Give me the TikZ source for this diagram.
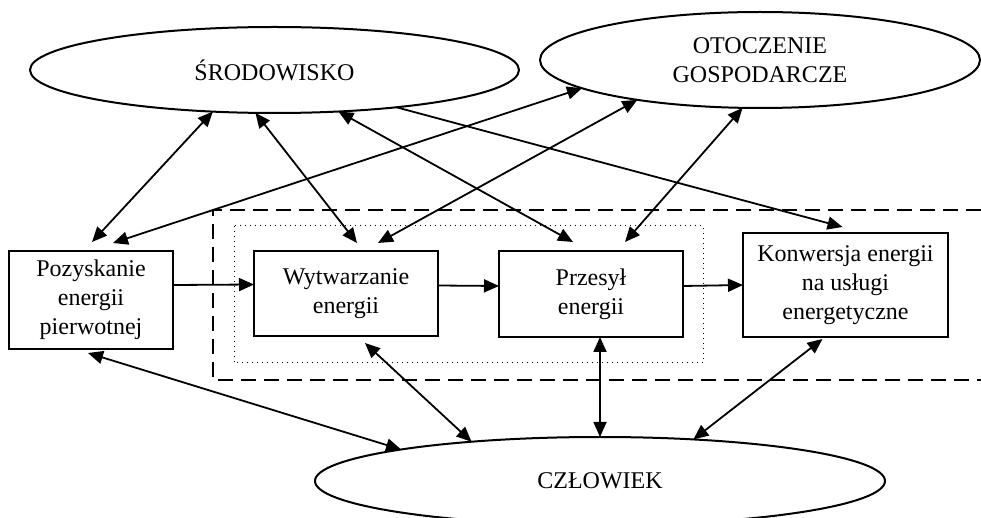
\documentclass[tikz,border=0pt]{standalone}
\usepackage{fontspec}
\setmainfont{Liberation Serif}
\usetikzlibrary{shapes.geometric,arrows.meta}
\begin{document}
\begin{tikzpicture}[x=0.5pt,y=-0.5pt,font=\fontsize{12}{14.5}\selectfont,
    blok/.style={draw,line width=1.25pt,inner sep=0pt,outer sep=0pt,align=center},
    owal/.style={draw,ellipse,line width=1pt,inner sep=0pt,outer sep=0pt,align=center},
    strz/.style={line width=0.9pt,-{Triangle[length=7.5pt,width=6.5pt]}},
    dwustrz/.style={line width=0.9pt,{Triangle[length=7.5pt,width=6.5pt]}-{Triangle[length=7.5pt,width=6.5pt]}}]
            \useasboundingbox (0,0) rectangle (981,518);
            \clip (0,0) rectangle (981,518);
            \draw[line width=1pt,dash pattern=on 7.5pt off 4pt] (981,210) -| (213,380) -- (981,380); %Cadre tirets
            \draw[line width=0.5pt,dotted] (234,226) rectangle (703,363); %Cadre pointille
            \node[owal,minimum width=244.5pt,minimum height=43pt] (srodowisko) at (274.5,70) {ŚRODOWISKO};
            \node[owal,minimum width=220pt,minimum height=48pt] (otoczenie) at (760,60) {OTOCZENIE\\GOSPODARCZE};
            \node[owal,minimum width=285pt,minimum height=44pt] (czlowiek) at (600,481) {CZŁOWIEK};
            \node[blok,minimum width=82pt,minimum height=49pt] (pozyskanie) at (91,300) {Pozyskanie\\energii\\pierwotnej};
            \node[blok,minimum width=92pt,minimum height=42.5pt] (wytwarzanie) at (346,293.5) {Wytwarzanie\\energii};
            \node[blok,minimum width=92pt,minimum height=43pt] (przesyl) at (591,294) {Przesył\\energii};
            \node[blok,minimum width=102.5pt,minimum height=52pt] (konwersja) at (845.5,285) {Konwersja energii\\na usługi\\energetyczne};
            \draw[strz] ([shift={(0,-15)}]pozyskanie.east) -- ([shift={(0,-9)}]wytwarzanie.west); %Chaine horizontale
            \draw[strz] ([shift={(0,-8)}]wytwarzanie.east) -- ([shift={(0,-8)}]przesyl.west);
            \draw[strz] ([shift={(0,-8)}]przesyl.east) -- (konwersja.west);
            \draw[dwustrz] (srodowisko.214) -- ([shift={(1,-9)}]pozyskanie.north); %Liens du haut
            \draw[dwustrz] (srodowisko.246) -- ([shift={(11,-8)}]wytwarzanie.north);
            \draw[dwustrz] (srodowisko.327) -- ([shift={(-18,-9)}]przesyl.north);
            \draw[strz] (srodowisko.343) -- ([shift={(-3,-6)}]konwersja.north);
            \draw[dwustrz] (otoczenie.189) -- ([shift={(22,-8)}]pozyskanie.north);
            \draw[dwustrz] (otoczenie.198) -- ([shift={(32,-8)}]wytwarzanie.north);
            \draw[dwustrz] (otoczenie.250) -- ([shift={(34,-9)}]przesyl.north);
            \draw[dwustrz] ([shift={(-3,4)}]pozyskanie.south) -- (czlowiek.171); %Liens du bas
            \draw[dwustrz] ([shift={(19,7)}]wytwarzanie.south) -- (czlowiek.163);
            \draw[dwustrz] ([shift={(9,0)}]przesyl.south) -- (czlowiek.90);
            \draw[dwustrz] ([shift={(-23,2)}]konwersja.south) -- (czlowiek.24);
        \end{tikzpicture}
\end{document}
